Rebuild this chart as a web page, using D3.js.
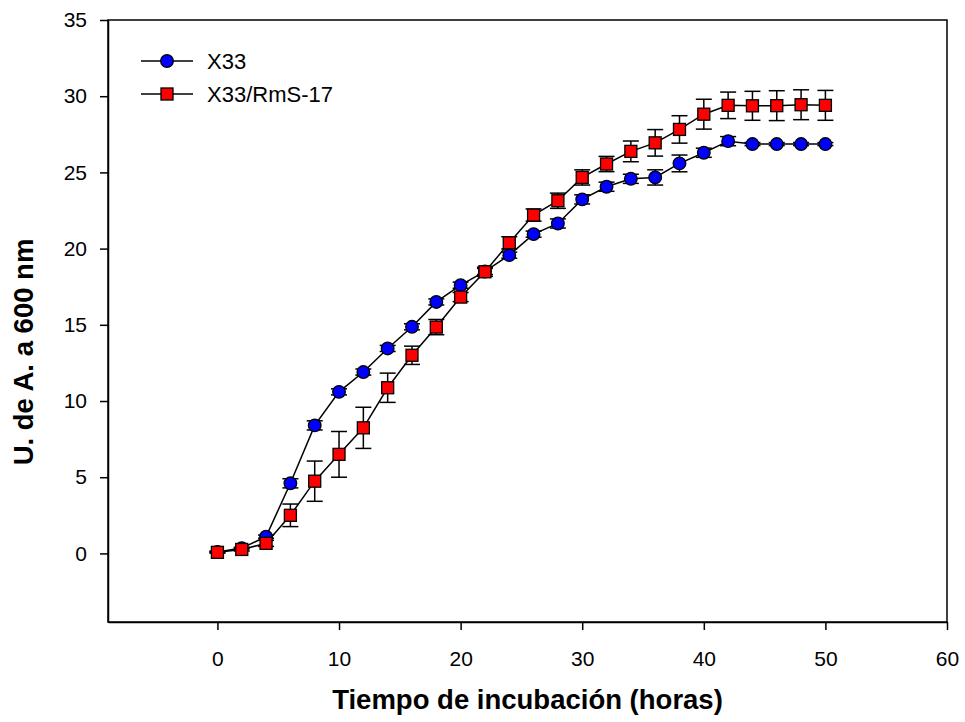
<!DOCTYPE html>
<html><head><meta charset="utf-8">
<script src="https://cdn.jsdelivr.net/npm/d3@7"></script>
<style>body{margin:0;background:#fff}svg{display:block}text{font-family:"Liberation Sans",Arial,sans-serif}</style>
</head><body><svg id="c" width="965" height="722"></svg>
<script>
const hours = [0,2,4,6,8,10,12,14,16,18,20,22,24,26,28,30,32,34,36,38,40,42,44,46,48,50];
const x33 = [0.1,0.35,1.1,4.6,8.4,10.6,11.9,13.45,14.87,16.5,17.6,18.5,19.57,20.95,21.65,23.23,24.06,24.58,24.67,25.59,26.29,27.05,26.86,26.86,26.86,26.86];
const x33Err = [0.05,0.05,0.1,0.3,0.3,0.2,0.2,0.2,0.2,0.2,0.2,0.2,0.2,0.2,0.3,0.3,0.3,0.3,0.5,0.55,0.3,0.3,0.1,0.1,0.1,0.1];
const rms = [0.07,0.26,0.66,2.5,4.74,6.5,8.24,10.87,13.0,14.85,16.82,18.48,20.38,22.2,23.14,24.67,25.55,26.38,26.94,27.82,28.82,29.4,29.37,29.38,29.44,29.4];
const rmsErr = [0.05,0.1,0.2,0.74,1.32,1.5,1.35,0.96,0.6,0.5,0.3,0.3,0.4,0.4,0.5,0.5,0.5,0.68,0.87,0.9,0.98,0.87,0.95,0.98,0.98,0.98];
const xTicks = [0,10,20,30,40,50,60];
const yTicks = [0,5,10,15,20,25,30,35];
const seriesNames = ["X33","X33/RmS-17"];
const xTitle = "Tiempo de incubación (horas)";
const yTitle = "U. de A. a 600 nm";

const svg = d3.select("#c");
const x = d3.scaleLinear().domain([-9,60]).range([108,947]);
const y = d3.scaleLinear().domain([-4.5,35]).range([622,20]);

// frame
svg.append("rect").attr("x",x(-9)).attr("y",y(35)).attr("width",x(60)-x(-9)).attr("height",y(-4.5)-y(35))
  .attr("fill","none").attr("stroke","#000").attr("stroke-width",1.5);

const xa = svg.append("g").attr("transform",`translate(0,${y(-4.5)})`)
  .call(d3.axisBottom(x).tickValues(xTicks).tickSize(8).tickSizeOuter(0).tickPadding(21));
const ya = svg.append("g").attr("transform",`translate(${x(-9)},0)`)
  .call(d3.axisLeft(y).tickValues(yTicks).tickSize(8).tickSizeOuter(0).tickPadding(13));
[xa,ya].forEach(a=>{
  a.select(".domain").attr("stroke","#000").attr("stroke-width",1.5);
  a.selectAll(".tick line").attr("stroke","#000").attr("stroke-width",1.5);
  a.selectAll(".tick text").attr("fill","#000").style("font-size","21px");
});

svg.append("text").attr("x",(x(-9)+x(60))/2).attr("y",709).attr("text-anchor","middle")
  .style("font-size","27.5px").style("font-weight","bold").text(xTitle);
svg.append("text").attr("transform",`translate(33,352) rotate(-90)`).attr("text-anchor","middle")
  .style("font-size","27.5px").style("font-weight","bold").text(yTitle);

const line = d3.line().x((d,i)=>x(hours[i])).y(d=>y(d));

function drawSeries(vals, errs, shape, color){
  const g = svg.append("g");
  g.append("path").datum(vals).attr("d",line).attr("fill","none").attr("stroke","#000").attr("stroke-width",1.5);
  const eg = g.append("g").attr("stroke","#000").attr("stroke-width",1.5);
  vals.forEach((v,i)=>{
    const cx = x(hours[i]), hi = y(v+errs[i]), lo = y(v-errs[i]);
    eg.append("line").attr("x1",cx).attr("x2",cx).attr("y1",hi).attr("y2",lo);
    eg.append("line").attr("x1",cx-8).attr("x2",cx+8).attr("y1",hi).attr("y2",hi);
    eg.append("line").attr("x1",cx-8).attr("x2",cx+8).attr("y1",lo).attr("y2",lo);
  });
  vals.forEach((v,i)=>{
    const cx = x(hours[i]), cy = y(v);
    if(shape==="circle") g.append("circle").attr("cx",cx).attr("cy",cy).attr("r",6.3).attr("fill",color).attr("stroke","#000").attr("stroke-width",1.3);
    else g.append("rect").attr("x",cx-6).attr("y",cy-6).attr("width",12).attr("height",12).attr("fill",color).attr("stroke","#000").attr("stroke-width",1.3);
  });
}
drawSeries(x33, x33Err, "circle", "#0000ff");
drawSeries(rms, rmsErr, "square", "#ff0000");

// legend
const leg = [{name:seriesNames[0],shape:"circle",color:"#0000ff",y:61},{name:seriesNames[1],shape:"square",color:"#ff0000",y:94}];
leg.forEach(l=>{
  svg.append("line").attr("x1",141).attr("x2",193).attr("y1",l.y).attr("y2",l.y).attr("stroke","#000").attr("stroke-width",1.5);
  if(l.shape==="circle") svg.append("circle").attr("cx",167).attr("cy",l.y).attr("r",6.3).attr("fill",l.color).attr("stroke","#000").attr("stroke-width",1.3);
  else svg.append("rect").attr("x",161).attr("y",l.y-6).attr("width",12).attr("height",12).attr("fill",l.color).attr("stroke","#000").attr("stroke-width",1.3);
  svg.append("text").attr("x",207).attr("y",l.y).attr("dy","0.36em").style("font-size","22px").text(l.name);
});
</script></body></html>
